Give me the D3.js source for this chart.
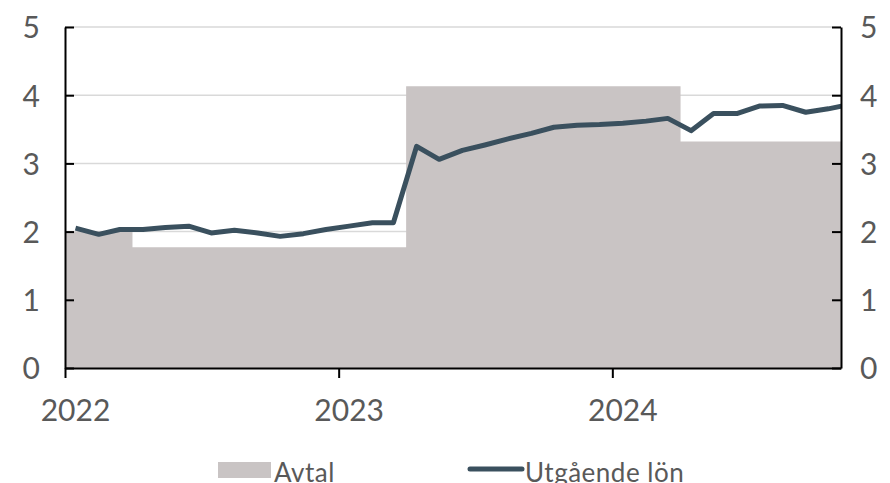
<!DOCTYPE html>
<html>
<head>
<meta charset="utf-8">
<script src="https://cdn.jsdelivr.net/npm/d3@7"></script>
<style>
  body { margin: 0; background: #fff; }
  svg text { font-family: Lato, "Open Sans", sans-serif; }
</style>
</head>
<body>
<div id="chart"></div>
<script>
// Monthly outgoing wage growth, Jan 2022 - Nov 2024 (percent)
const lonMonths = d3.timeMonths(new Date(2022, 0, 1), new Date(2024, 11, 1));
const lonValues = [
  2.05, 1.96, 2.03, 2.03, 2.06, 2.08, 1.98, 2.02, 1.98, 1.93, 1.97, 2.03,
  2.08, 2.13, 2.13, 3.25, 3.06, 3.19, 3.27, 3.36, 3.44, 3.53, 3.56, 3.57,
  3.59, 3.62, 3.66, 3.48, 3.73, 3.73, 3.84, 3.85, 3.75, 3.80, 3.87
];

// Agreement (Avtal) levels, each valid from its start month
const avtalStarts = ['2022-01', '2022-04', '2023-04', '2024-04', '2024-11'];
const avtalValues = [2.0, 1.77, 4.13, 3.32, 3.32];

const yTicks = [0, 1, 2, 3, 4, 5];
const yearTicks = [2022, 2023, 2024];

const width = 890, height = 483;
const margin = { top: 27, right: 49, bottom: 115, left: 65 };

const svg = d3.select('#chart').append('svg')
  .attr('width', width)
  .attr('height', height);

const x = d3.scaleTime()
  .domain([new Date(2022, 0, 1), new Date(2024, 10, 1)])
  .range([margin.left, width - margin.right]);

const y = d3.scaleLinear()
  .domain([0, 5])
  .range([height - margin.bottom, margin.top]);

const parseMonth = d3.timeParse('%Y-%m');
const avtal = avtalStarts.map((s, i) => ({ date: parseMonth(s), value: avtalValues[i] }));
const lon = lonMonths.map((m, i) => ({ date: new Date(m.getFullYear(), m.getMonth(), 15), value: lonValues[i] }));

svg.append('clipPath').attr('id', 'plot-clip')
  .append('rect')
  .attr('x', margin.left)
  .attr('y', 0)
  .attr('width', width - margin.left - margin.right)
  .attr('height', height - margin.bottom);

// gridlines
svg.append('g')
  .selectAll('line')
  .data(yTicks.filter(d => d > 0))
  .enter().append('line')
    .attr('x1', margin.left)
    .attr('x2', width - margin.right)
    .attr('y1', d => y(d))
    .attr('y2', d => y(d))
    .attr('stroke', '#d9d9d9')
    .attr('stroke-width', 1.5);

// Avtal step area
const area = d3.area()
  .curve(d3.curveStepAfter)
  .x(d => x(d.date))
  .y0(y(0))
  .y1(d => y(d.value));

svg.append('path')
  .datum(avtal)
  .attr('d', area)
  .attr('fill', '#c9c4c4');

// Utgående lön line
const line = d3.line()
  .x(d => x(d.date))
  .y(d => y(d.value));

svg.append('path')
  .datum(lon)
  .attr('clip-path', 'url(#plot-clip)')
  .attr('d', line)
  .attr('fill', 'none')
  .attr('stroke', '#3a505e')
  .attr('stroke-width', 5)
  .attr('stroke-linejoin', 'round');

// axes
const leftAxis = svg.append('g')
  .attr('transform', `translate(${margin.left},0)`)
  .call(d3.axisLeft(y).tickValues(yTicks).tickFormat(d3.format('d'))
    .tickSizeInner(-9).tickSizeOuter(0).tickPadding(25));

const rightAxis = svg.append('g')
  .attr('transform', `translate(${width - margin.right},0)`)
  .call(d3.axisRight(y).tickValues(yTicks).tickFormat(d3.format('d'))
    .tickSizeInner(-9).tickSizeOuter(0).tickPadding(19));

const bottomAxis = svg.append('g')
  .attr('transform', `translate(0,${height - margin.bottom})`)
  .call(d3.axisBottom(x)
    .tickValues(yearTicks.map(yr => new Date(yr, 0, 1)))
    .tickSizeInner(10).tickSizeOuter(0)
    .tickFormat(''));

[leftAxis, rightAxis, bottomAxis].forEach(g => {
  g.select('.domain').attr('stroke', '#000').attr('stroke-width', 2);
  g.selectAll('.tick line').attr('stroke', '#000').attr('stroke-width', 2);
  g.selectAll('.tick text')
    .style('font-size', '30px')
    .style('fill', '#595959');
});
leftAxis.selectAll('.tick text').attr('dy', '0.36em');
rightAxis.selectAll('.tick text').attr('dy', '0.36em');

// year labels, centred on the January data point
svg.append('g')
  .selectAll('text')
  .data(yearTicks)
  .enter().append('text')
    .attr('x', d => x(new Date(d, 0, 15)))
    .attr('y', 421)
    .attr('text-anchor', 'middle')
    .style('font-size', '30px')
    .style('fill', '#595959')
    .text(d => d);

// legend
const legend = svg.append('g');
legend.append('rect')
  .attr('x', 218).attr('y', 462)
  .attr('width', 53).attr('height', 16)
  .attr('fill', '#c9c4c4');
legend.append('text')
  .attr('x', 274).attr('y', 482)
  .style('font-size', '26px')
  .style('letter-spacing', '0.5px')
  .style('fill', '#595959')
  .text('Avtal');
legend.append('line')
  .attr('x1', 470).attr('x2', 522)
  .attr('y1', 469).attr('y2', 469)
  .attr('stroke', '#3a505e')
  .attr('stroke-width', 5)
  .attr('stroke-linecap', 'round');
legend.append('text')
  .attr('x', 525).attr('y', 482)
  .style('font-size', '26px')
  .style('letter-spacing', '0.5px')
  .style('fill', '#595959')
  .text('Utgående lön');
</script>
</body>
</html>
